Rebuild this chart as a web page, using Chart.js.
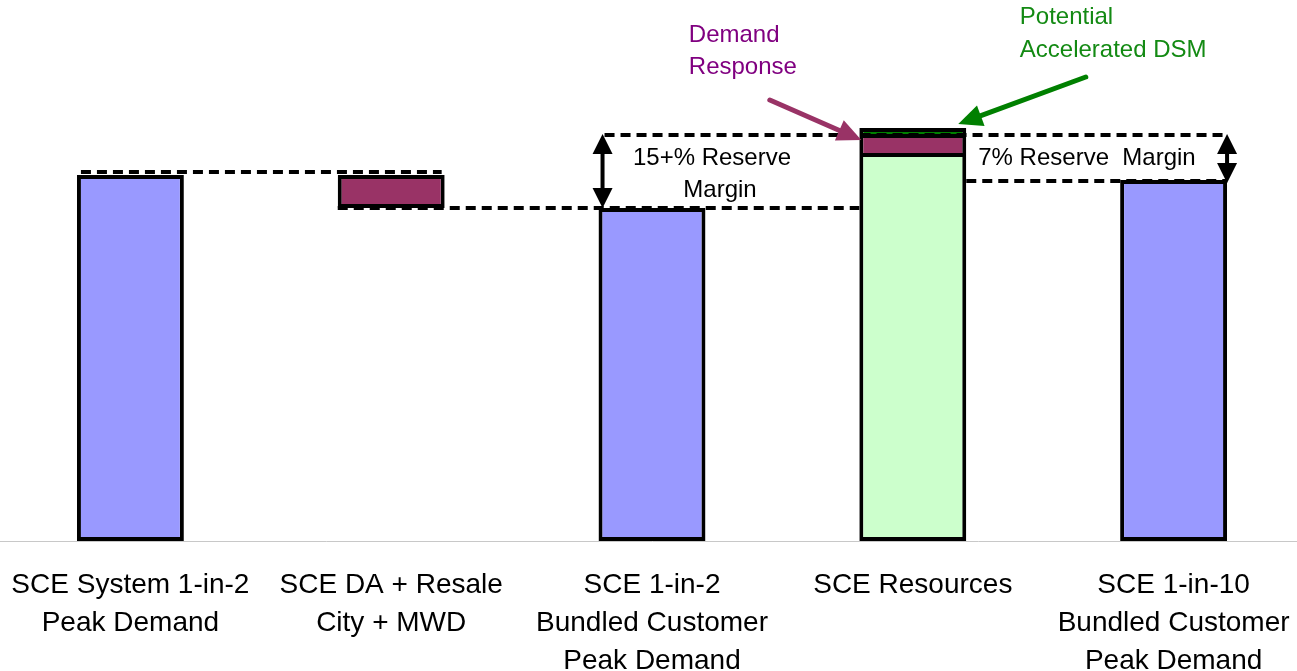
<!DOCTYPE html>
<html>
<head>
<meta charset="utf-8">
<script src="https://cdn.jsdelivr.net/npm/chart.js@4.4.1/dist/chart.umd.min.js"></script>
<style>
  html, body { margin: 0; padding: 0; background: #ffffff; overflow: hidden; }
  #wrap { width: 1304px; height: 671px; position: relative; }
</style>
</head>
<body>
<div id="wrap"><canvas id="c"></canvas></div>
<script>
// ---- data (MW) ----
const categories = [
  ['SCE System 1-in-2', 'Peak Demand'],
  ['SCE DA + Resale', 'City + MWD'],
  ['SCE 1-in-2', 'Bundled Customer', 'Peak Demand'],
  ['SCE Resources'],
  ['SCE 1-in-10', 'Bundled Customer', 'Peak Demand']
];
const peakDemand      = [18300, null, 16650, null, 18050];
const daResaleRange   = [null, [16650, 18300], null, null, null];
const resources       = [null, null, null, 19200, null];
const demandResponse  = [null, null, null, [19200, 20150], null];
const acceleratedDSM  = [null, null, null, [20150, 20650], null];
const systemPeakLine  = 18450;   // dashed level over system peak
const bundledLine     = 16650;   // dashed level at bundled 1-in-2 demand
const reserveTopLine  = 20300;   // 15+% reserve level
const reserve7Line    = 18000;   // 1-in-10 level
const yMax = 27050;

const FONT = "'Liberation Sans', Arial, sans-serif";

function arrowHead(ctx, tipX, tipY, fromX, fromY, len, wid, color) {
  const a = Math.atan2(tipY - fromY, tipX - fromX);
  ctx.save();
  ctx.translate(tipX, tipY);
  ctx.rotate(a);
  ctx.beginPath();
  ctx.moveTo(0, 0);
  ctx.lineTo(-len, -wid / 2);
  ctx.lineTo(-len, wid / 2);
  ctx.closePath();
  ctx.fillStyle = color;
  ctx.fill();
  ctx.restore();
}
function arrow(ctx, x1, y1, x2, y2, color, lw, len, wid) {
  const a = Math.atan2(y2 - y1, x2 - x1);
  ctx.save();
  ctx.strokeStyle = color;
  ctx.lineWidth = lw;
  ctx.lineCap = 'round';
  ctx.beginPath();
  ctx.moveTo(x1, y1);
  ctx.lineTo(x2 - Math.cos(a) * (len - 2), y2 - Math.sin(a) * (len - 2));
  ctx.stroke();
  ctx.restore();
  arrowHead(ctx, x2, y2, x1, y1, len, wid, color);
}
function doubleArrow(ctx, x, yTop, yBot) {
  const h = 20, w = 20;
  ctx.save();
  ctx.strokeStyle = '#000';
  ctx.lineWidth = 4;
  ctx.beginPath();
  ctx.moveTo(x, yTop + h - 2);
  ctx.lineTo(x, yBot - h + 2);
  ctx.stroke();
  ctx.restore();
  arrowHead(ctx, x, yTop, x, yTop + 10, h, w, '#000');
  arrowHead(ctx, x, yBot, x, yBot - 10, h, w, '#000');
}
function dashed(ctx, x1, x2, yy) {
  ctx.save();
  ctx.strokeStyle = '#000';
  ctx.lineWidth = 4;
  ctx.setLineDash([10, 6]);
  ctx.beginPath();
  ctx.moveTo(x1, yy);
  ctx.lineTo(x2, yy);
  ctx.stroke();
  ctx.restore();
}

const annotations = {
  id: 'annotations',
  afterDatasetsDraw(chart) {
    const { ctx, scales: { x, y } } = chart;
    const half = chart.getDatasetMeta(0).data[0].width / 2;
    const L = i => x.getPixelForValue(i) - half;
    const R = i => x.getPixelForValue(i) + half;

    dashed(ctx, L(0) + 4, R(1) - 3, y.getPixelForValue(systemPeakLine));
    dashed(ctx, L(1), L(3), y.getPixelForValue(bundledLine));
    dashed(ctx, L(2) + 6, R(4), y.getPixelForValue(reserveTopLine));
    dashed(ctx, R(3), R(4), y.getPixelForValue(reserve7Line));

    doubleArrow(ctx, L(2) + 4, y.getPixelForValue(reserveTopLine) - 1, y.getPixelForValue(bundledLine));
    doubleArrow(ctx, R(4), y.getPixelForValue(reserveTopLine) - 1, y.getPixelForValue(reserve7Line) + 2);

    ctx.save();
    ctx.font = '24px ' + FONT;
    ctx.fillStyle = '#000';
    ctx.textBaseline = 'middle';
    ctx.textAlign = 'center';
    ctx.fillText('15+% Reserve', x.getPixelForValue(2) + 60, 158);
    ctx.fillText('Margin', x.getPixelForValue(2) + 68, 190);
    ctx.textAlign = 'left';
    ctx.fillText('7% Reserve  Margin', R(3) + 12, 158);

    ctx.fillStyle = '#800080';
    ctx.fillText('Demand', x.getPixelForValue(3) - 224, 35);
    ctx.fillText('Response', x.getPixelForValue(3) - 224, 67);
    ctx.fillStyle = '#138a13';
    ctx.fillText('Potential', x.getPixelForValue(3) + 107, 17);
    ctx.fillText('Accelerated DSM', x.getPixelForValue(3) + 107, 50);
    ctx.restore();

    const xc = x.getPixelForValue(3);
    arrow(ctx, xc - 143, 100, L(3) + 2, 140, '#993366', 5, 24, 22);
    arrow(ctx, xc + 173, 77, R(3) - 8, 124, '#008000', 5, 24, 22);
  }
};

const common = {
  borderColor: '#000000',
  borderWidth: 4,
  borderSkipped: false,
  barPercentage: 0.41,
  categoryPercentage: 1.0
};

new Chart(document.getElementById('c'), {
  type: 'bar',
  data: {
    labels: categories,
    datasets: [
      Object.assign({ label: 'Peak Demand', data: peakDemand, backgroundColor: '#9999ff' }, common),
      Object.assign({ label: 'DA + Resale City + MWD', data: daResaleRange, backgroundColor: '#993366' }, common),
      Object.assign({ label: 'SCE Resources', data: resources, backgroundColor: '#ccffcc' }, common, { borderSkipped: 'top' }),
      Object.assign({ label: 'Demand Response', data: demandResponse, backgroundColor: '#993366' }, common, { borderSkipped: 'top' }),
      Object.assign({ label: 'Potential Accelerated DSM', data: acceleratedDSM, backgroundColor: '#008000' }, common)
    ]
  },
  options: {
    responsive: true,
    maintainAspectRatio: false,
    animation: false,
    layout: { padding: 0 },
    plugins: {
      legend: { display: false },
      tooltip: { enabled: false }
    },
    scales: {
      x: {
        stacked: true,
        grid: { display: false, drawTicks: false },
        border: { display: true, color: '#c8c8c8', width: 1 },
        ticks: {
          autoSkip: false,
          maxRotation: 0,
          minRotation: 0,
          padding: 25,
          color: '#000000',
          font: { family: FONT, size: 28, lineHeight: 1.357 }
        },
        afterFit(scale) {
          scale.height = 130;
          scale.paddingLeft = 0;
          scale.paddingRight = 0;
        }
      },
      y: {
        display: false,
        stacked: false,
        min: 0,
        max: yMax
      }
    }
  },
  plugins: [annotations]
});
</script>
</body>
</html>
